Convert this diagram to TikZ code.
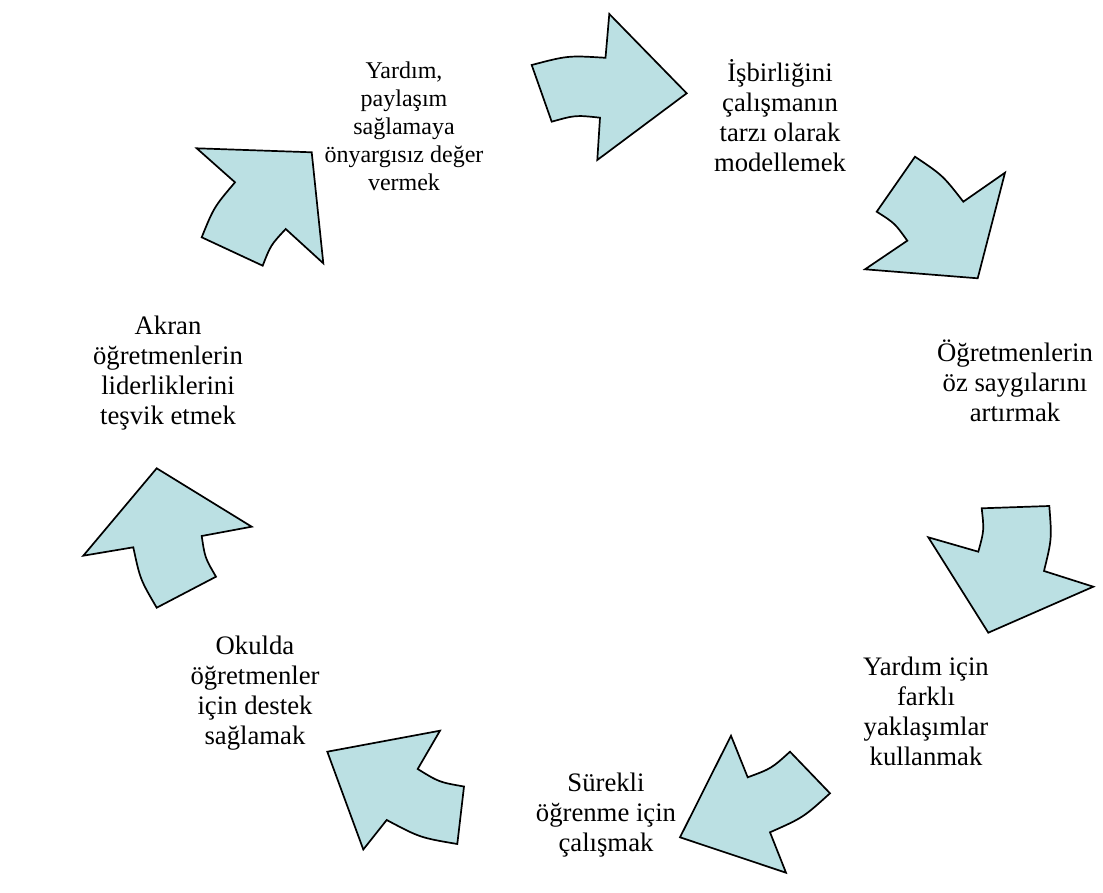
\documentclass[tikz,border=0pt]{standalone}
\usepackage{fontspec}
\setmainfont{Liberation Serif}
\definecolor{arrowfill}{HTML}{BBE0E3}
\begin{document}
\begin{tikzpicture}[x=1pt,y=-1pt,
  arrowshape/.style={fill=arrowfill, draw=black, line width=1.7pt, line join=miter},
  cyctext/.style={align=center, inner sep=0pt, font=\fontsize{26.7}{30}\selectfont},
  cyctextsmall/.style={cyctext, font=\fontsize{24}{28}\selectfont}]
\useasboundingbox (0,0) rectangle (1103,893);

% curved block arrows, clockwise around the cycle
\draw[arrowshape] (196.7,148.3) -- (311.7,152.3) -- (323.3,263.3) -- (285.7,229)
  .. controls (270.7,245.15) .. (262.7,265.7) -- (201.7,237.3)
  .. controls (213.95,207.16) .. (235,182.3) -- cycle;
\draw[arrowshape] (531.7,65) .. controls (568.04,55.48) .. (605.5,57.8) -- (609.3,14)
  -- (686.7,93.3) -- (597.3,160) -- (600,117.7)
  .. controls (575.5,115.06) .. (551.7,121.7) -- cycle;
\draw[arrowshape] (915,156.7) .. controls (942.75,175.36) .. (963.3,201.7) -- (1005,172.7)
  -- (977.7,278.3) -- (865,269.3) -- (907.3,240.7)
  .. controls (894.8,223.24) .. (876.7,211.7) -- cycle;
\draw[arrowshape] (978.3,551.7) .. controls (984.16,530.32) .. (981.7,508.3) -- (1049.3,506)
  .. controls (1051.85,538.9) .. (1044,571) -- (1093.3,586.7) -- (988.3,632.7)
  -- (928.3,537.3) -- cycle;
\draw[arrowshape] (680,837.3) -- (731,735.7) -- (747.7,777.3)
  .. controls (771.29,768.58) .. (790,751.7) -- (830,793.3)
  .. controls (803.12,817.6) .. (770,832.3) -- (786,872.7) -- cycle;
\draw[arrowshape] (327.3,751.7) -- (440,730.7) -- (417.7,769)
  .. controls (439.17,782.19) .. (464,786.5) -- (457.3,844)
  .. controls (420.08,837.68) .. (386.7,820) -- (363.3,849.5) -- cycle;
\draw[arrowshape] (156.7,468.3) -- (251.7,526.7) -- (201.7,536)
  .. controls (204.95,557.73) .. (216,576.7) -- (156.7,607.7)
  .. controls (140.17,579.37) .. (133.3,547.3) -- (83.3,555.7) -- cycle;

% step texts
\node[cyctextsmall] (t1) at (404,126) {Yardım,\\paylaşım\\sağlamaya\\önyargısız değer\\vermek};
\node[cyctext] (t2) at (780,116) {İşbirliğini\\çalışmanın\\tarzı olarak\\modellemek};
\node[cyctext] (t3) at (1015,381) {Öğretmenlerin\\öz saygılarını\\artırmak};
\node[cyctext] (t4) at (926,711) {Yardım için\\farklı\\yaklaşımlar\\kullanmak};
\node[cyctext] (t5) at (606,815) {Sürekli\\öğrenme için\\çalışmak};
\node[cyctext] (t6) at (255,693) {Okulda\\öğretmenler\\için destek\\sağlamak};
\node[cyctext] (t7) at (168,373) {Akran\\öğretmenlerin\\liderliklerini\\teşvik etmek};
\end{tikzpicture}
\end{document}
